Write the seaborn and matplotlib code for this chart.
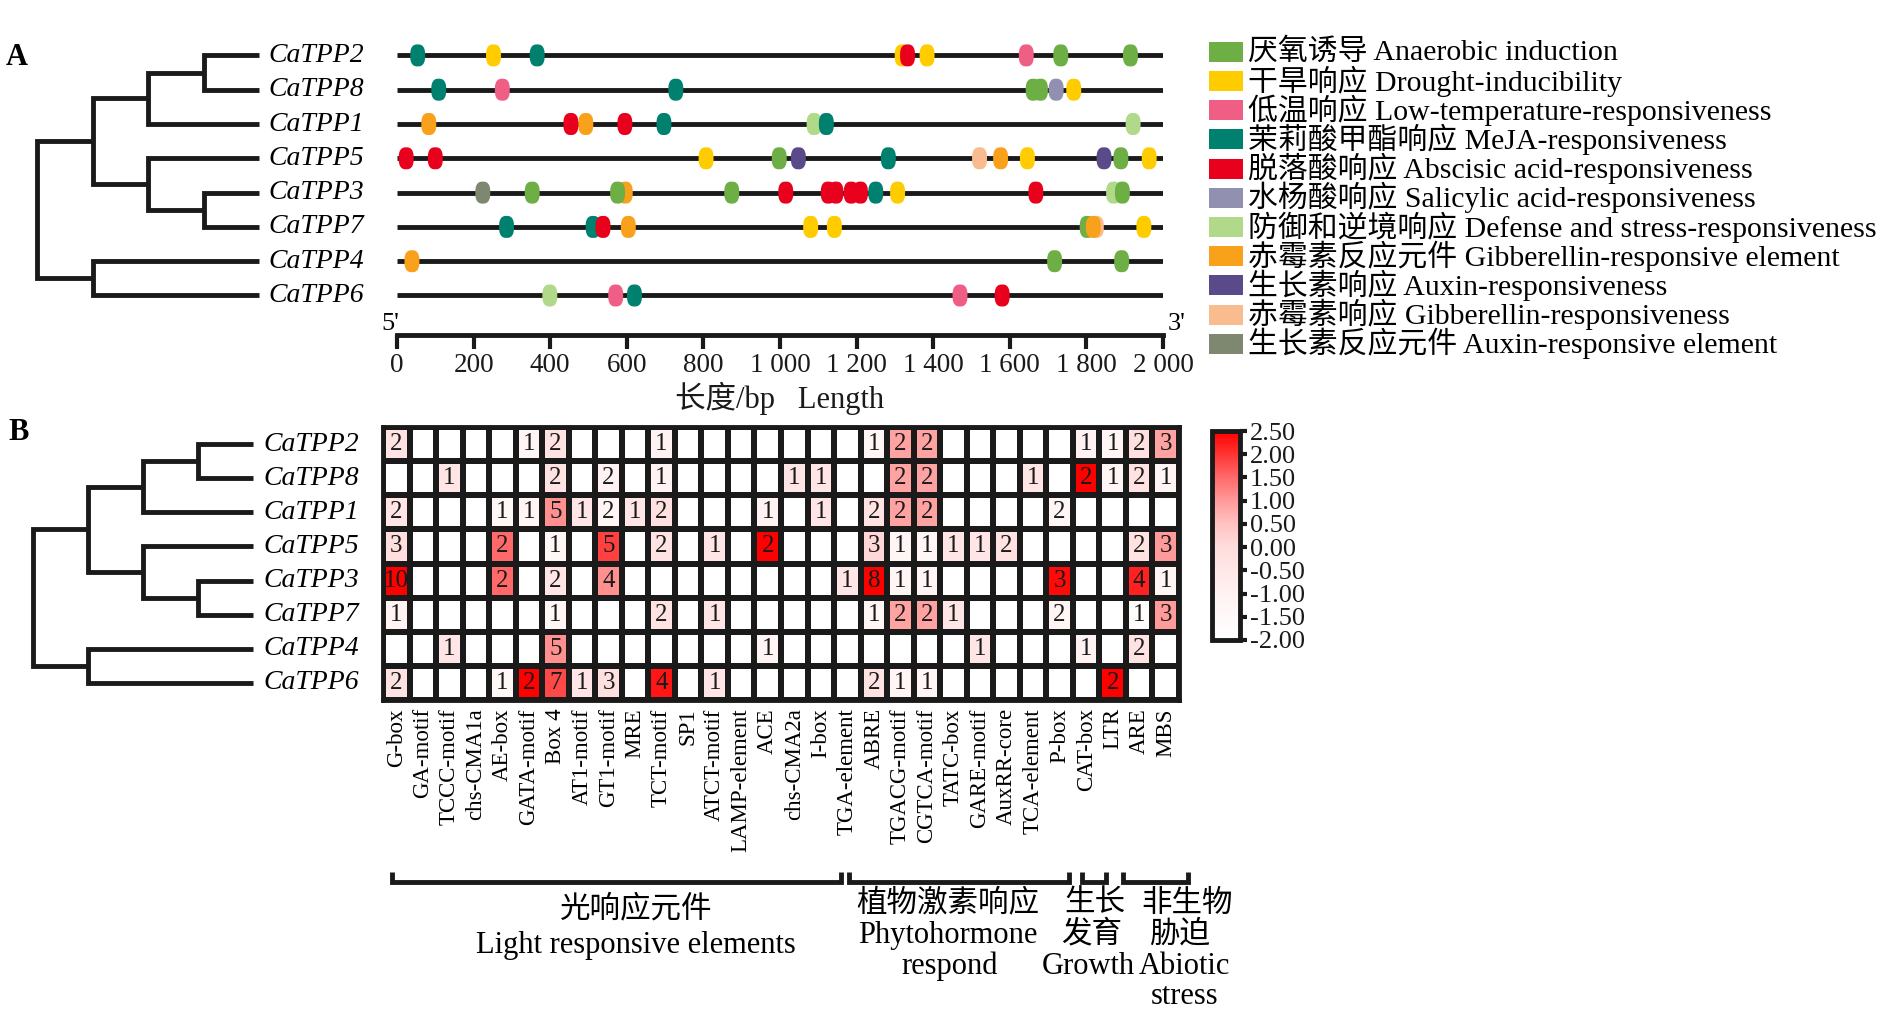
import numpy as np
import pandas as pd
import matplotlib
matplotlib.use("Agg")
import matplotlib.pyplot as plt
import seaborn as sns
from matplotlib.path import Path
from matplotlib.markers import MarkerStyle
from matplotlib.colors import LinearSegmentedColormap
from matplotlib.patches import Rectangle
import matplotlib.transforms as mtrans

# ---------------- data ----------------
genes = ["CaTPP2", "CaTPP8", "CaTPP1", "CaTPP5", "CaTPP3", "CaTPP7", "CaTPP4", "CaTPP6"]
gene_length = [2000, 2000, 2000, 2000, 2000, 2000, 2000, 2000]

# tree merges: (child a, child b, node level, node name); leaves at level 4
tree_merges = [("CaTPP2", "CaTPP8", 3, "n1"), ("n1", "CaTPP1", 2, "n2"),
               ("CaTPP3", "CaTPP7", 3, "n3"), ("CaTPP5", "n3", 2, "n4"),
               ("n2", "n4", 1, "n5"), ("CaTPP4", "CaTPP6", 1, "n6"),
               ("n5", "n6", 0, "root")]
tip_level = 4

legend_keys = ["Anaerobic", "Drought", "LowTemp", "MeJA", "ABA", "Salicylic",
               "Defense", "GAelem", "Auxin", "GAresp", "AuxElem"]
legend_cn = ["厌氧诱导", "干旱响应", "低温响应", "茉莉酸甲酯响应", "脱落酸响应", "水杨酸响应",
             "防御和逆境响应", "赤霉素反应元件", "生长素响应", "赤霉素响应", "生长素反应元件"]
legend_en = ["Anaerobic induction", "Drought-inducibility", "Low-temperature-responsiveness",
             "MeJA-responsiveness", "Abscisic acid-responsiveness", "Salicylic acid-responsiveness",
             "Defense and stress-responsiveness", "Gibberellin-responsive element",
             "Auxin-responsiveness", "Gibberellin-responsiveness", "Auxin-responsive element"]
legend_colors = ["#6DAE45", "#FFCC00", "#EF5E84", "#00806F", "#E8001C", "#9290B0",
                 "#B0DA8A", "#F9A11B", "#5A4A8A", "#F9BC8E", "#7E8870"]

motifs_CaTPP2 = [(54, "MeJA"), (252, "Drought"), (366, "MeJA"), (1319, "Drought"), (1333, "ABA"),
                 (1384, "Drought"), (1643, "LowTemp"), (1733, "Anaerobic"), (1915, "Anaerobic")]
motifs_CaTPP8 = [(109, "MeJA"), (275, "LowTemp"), (728, "MeJA"), (1661, "Anaerobic"),
                 (1680, "Anaerobic"), (1721, "Salicylic"), (1767, "Drought")]
motifs_CaTPP1 = [(83, "GAelem"), (454, "ABA"), (493, "GAelem"), (595, "ABA"), (697, "MeJA"),
                 (1089, "Defense"), (1121, "MeJA"), (1922, "Defense")]
motifs_CaTPP5 = [(24, "ABA"), (100, "ABA"), (807, "Drought"), (998, "Anaerobic"), (1048, "Auxin"),
                 (1283, "MeJA"), (1521, "GAresp"), (1576, "GAelem"), (1646, "Drought"),
                 (1846, "Auxin"), (1890, "Anaerobic"), (1964, "Drought")]
motifs_CaTPP3 = [(224, "AuxElem"), (353, "Anaerobic"), (596, "GAelem"), (576, "Anaerobic"),
                 (874, "Anaerobic"), (1015, "ABA"), (1126, "ABA"), (1146, "ABA"), (1186, "ABA"),
                 (1210, "ABA"), (1250, "MeJA"), (1307, "Drought"), (1668, "ABA"),
                 (1871, "Defense"), (1894, "Anaerobic")]
motifs_CaTPP7 = [(286, "MeJA"), (512, "MeJA"), (538, "ABA"), (604, "GAelem"), (1080, "Drought"),
                 (1142, "Drought"), (1802, "Anaerobic"), (1826, "GAresp"), (1818, "GAelem"),
                 (1950, "Drought")]
motifs_CaTPP4 = [(39, "GAelem"), (1717, "Anaerobic"), (1892, "Anaerobic")]
motifs_CaTPP6 = [(399, "Defense"), (571, "LowTemp"), (620, "MeJA"), (1470, "LowTemp"), (1580, "ABA")]
motif_lists = [motifs_CaTPP2, motifs_CaTPP8, motifs_CaTPP1, motifs_CaTPP5,
               motifs_CaTPP3, motifs_CaTPP7, motifs_CaTPP4, motifs_CaTPP6]

length_ticks = [0, 200, 400, 600, 800, 1000, 1200, 1400, 1600, 1800, 2000]

heat_cols = ["G-box", "GA-motif", "TCCC-motif", "chs-CMA1a", "AE-box", "GATA-motif", "Box 4",
             "AT1-motif", "GT1-motif", "MRE", "TCT-motif", "SP1", "ATCT-motif", "LAMP-element",
             "ACE", "chs-CMA2a", "I-box", "TGA-element", "ABRE", "TGACG-motif", "CGTCA-motif",
             "TATC-box", "GARE-motif", "AuxRR-core", "TCA-element", "P-box", "CAT-box", "LTR",
             "ARE", "MBS"]

motif_counts = [
    [2, 0, 0, 0, 0, 1, 2, 0, 0, 0, 1, 0, 0, 0, 0, 0, 0, 0, 1, 2, 2, 0, 0, 0, 0, 0, 1, 1, 2, 3],
    [0, 0, 1, 0, 0, 0, 2, 0, 2, 0, 1, 0, 0, 0, 0, 1, 1, 0, 0, 2, 2, 0, 0, 0, 1, 0, 2, 1, 2, 1],
    [2, 0, 0, 0, 1, 1, 5, 1, 2, 1, 2, 0, 0, 0, 1, 0, 1, 0, 2, 2, 2, 0, 0, 0, 0, 2, 0, 0, 0, 0],
    [3, 0, 0, 0, 2, 0, 1, 0, 5, 0, 2, 0, 1, 0, 2, 0, 0, 0, 3, 1, 1, 1, 1, 2, 0, 0, 0, 0, 2, 3],
    [10, 0, 0, 0, 2, 0, 2, 0, 4, 0, 0, 0, 0, 0, 0, 0, 0, 1, 8, 1, 1, 0, 0, 0, 0, 3, 0, 0, 4, 1],
    [1, 0, 0, 0, 0, 0, 1, 0, 0, 0, 2, 0, 1, 0, 0, 0, 0, 0, 1, 2, 2, 1, 0, 0, 0, 2, 0, 0, 1, 3],
    [0, 0, 1, 0, 0, 0, 5, 0, 0, 0, 0, 0, 0, 0, 1, 0, 0, 0, 0, 0, 0, 0, 1, 0, 0, 0, 1, 0, 2, 0],
    [2, 0, 0, 0, 1, 2, 7, 1, 3, 0, 4, 0, 1, 0, 0, 0, 0, 0, 2, 1, 1, 0, 0, 0, 0, 0, 0, 2, 0, 0],
]
E = -2.0
heat_scores = [
    [-0.3, E, E, E, E, -1.2, -0.3, E, E, E, -1.0, E, E, E, E, E, E, E, -1.2, 0.9, 0.9, E, E, E, E, E, -1.0, -1.2, -0.2, 0.9],
    [E, E, -0.4, E, E, E, -0.3, E, -1.0, E, -1.0, E, E, E, E, -0.4, -0.4, E, E, 0.9, 0.9, E, E, E, -0.4, E, 2.5, -1.2, -0.3, -1.2],
    [-0.4, E, E, E, -1.3, -1.2, 1.1, -0.4, -1.2, -0.4, -0.2, E, E, E, -1.0, E, -0.4, E, -0.3, 0.9, 0.9, E, E, E, E, -1.2, E, E, E, E],
    [-0.1, E, E, E, 1.5, E, -1.3, E, 1.9, E, -0.3, E, -0.4, E, 2.5, E, E, E, 0.1, -1.2, -1.2, -0.4, -0.4, -0.3, E, E, E, E, -0.3, 1.0],
    [2.5, E, E, E, 1.5, E, -0.4, E, 1.1, E, E, E, E, E, E, E, E, -0.4, 2.5, -1.2, -1.2, E, E, E, E, 2.4, E, E, 2.2, -1.2],
    [-1.1, E, E, E, E, E, -1.3, E, E, E, -0.3, E, -0.4, E, E, E, E, E, -1.2, 0.9, 0.9, -0.4, E, E, E, -1.2, E, E, -1.8, 1.0],
    [E, E, -0.4, E, E, E, 1.1, E, E, E, E, E, E, E, -1.2, E, E, E, E, E, E, E, -0.4, E, E, E, -1.0, E, -0.3, E],
    [-0.3, E, E, E, -1.3, 2.5, 1.8, -0.4, -0.2, E, 2.3, E, -0.4, E, E, E, E, E, -0.3, -1.2, -1.2, E, E, E, E, E, E, 2.5, E, E],
]
score_ticks = [-2.0, -1.5, -1.0, -0.5, 0.0, 0.5, 1.0, 1.5, 2.0, 2.5]

group_labels = [["光响应元件", "Light responsive elements"],
                ["植物激素响应", "Phytohormone", "respond"],
                ["生长", "发育", "Growth"],
                ["非生物", "胁迫", "Abiotic", "stress"]]

# ---------------- layout / style ----------------
# bracket spans (column units) and label anchors (pixels) — drawing layout only
bracket_spans = [(0.34, 17.26), (17.56, 25.85), (26.36, 27.23), (27.9, 30.35)]
label_x_px = [[636, 636], [948, 948, 950], [1095, 1092, 1088], [1187, 1180, 1184, 1185]]
label_y_px = [[910, 945], [904, 935, 966], [904, 935, 966], [904, 935, 966, 996]]

sns.set_theme(style="white")
plt.rcParams['font.family'] = ['Liberation Serif', 'Noto Sans CJK SC']
plt.rcParams['axes.unicode_minus'] = False
plt.rcParams['text.color'] = 'black'
plt.rcParams['xtick.color'] = 'black'
plt.rcParams['ytick.color'] = 'black'

W, H = 1890, 1013
fig = plt.figure(figsize=(W / 100, H / 100), dpi=100)
fig.patch.set_facecolor('white')


def px_axes(l, t, r, b):
    ax = fig.add_axes([l / W, 1 - b / H, (r - l) / W, (b - t) / H])
    ax.patch.set_visible(False)
    return ax


palette = dict(zip(legend_keys, legend_colors))
LW = 3.5


def draw_tree(ax, leaf_y):
    ypos = dict(leaf_y)
    xpos = {g: tip_level for g in leaf_y}
    for a, b, lvl, name in tree_merges:
        ax.plot([xpos[a], lvl, lvl, xpos[b]], [ypos[a], ypos[a], ypos[b], ypos[b]],
                color='k', lw=LW, solid_joinstyle='miter', solid_capstyle='butt', clip_on=False)
        ypos[name] = (ypos[a] + ypos[b]) / 2
        xpos[name] = lvl
    ax.set_xlim(0, tip_level)
    ax.axis('off')


# ---------------- panel A ----------------
A_top, A_bot = 28, 335
ytop = -(55.4 - A_top) / 34.3
ybot = (A_bot - 55.4) / 34.3

axA = px_axes(397, A_top, 1163, A_bot)
for i, g in enumerate(genes):
    axA.plot([0, gene_length[i]], [i, i], color='k', lw=LW, solid_capstyle='butt', zorder=2)

rows = []
for i, (g, lst) in enumerate(zip(genes, motif_lists)):
    for pos, cat in lst:
        rows.append({"gene": g, "row": i, "pos": pos, "cat": cat})
df_m = pd.DataFrame(rows)

t = np.linspace(0, 2 * np.pi, 73)
n = 2.6
mx = 0.68 * np.sign(np.cos(t)) * np.abs(np.cos(t)) ** (2 / n)
my = np.sign(np.sin(t)) * np.abs(np.sin(t)) ** (2 / n)
capsule = MarkerStyle(Path(np.column_stack([mx, my]), closed=True))

sns.scatterplot(data=df_m, x="pos", y="row", hue="cat", palette=palette, marker=capsule,
                s=251, linewidth=0, edgecolor='none', legend=False, ax=axA, zorder=3, clip_on=False)

axA.set_xlim(0, 2000)
axA.set_ylim(ybot, ytop)
for s in ['top', 'right', 'left']:
    axA.spines[s].set_visible(False)
axA.spines['bottom'].set_linewidth(LW)
axA.spines['bottom'].set_color('k')
axA.set_xticks(length_ticks)
axA.set_xticklabels([f"{v:,}".replace(",", " ") for v in length_ticks])
axA.tick_params(axis='x', bottom=True, direction='out', length=10, width=3, labelsize=19.5,
                pad=3, colors='k')
axA.set_yticks([])
axA.set_ylabel('')
axA.set_xlabel("长度/bp   Length", fontsize=22, labelpad=3, color='k')

axTA = px_axes(37, A_top, 259, A_bot)
draw_tree(axTA, {g: i for i, g in enumerate(genes)})
axTA.set_ylim(ybot, ytop)
offA = mtrans.offset_copy(axTA.transData, fig=fig, x=9, y=0, units='dots')
for i, g in enumerate(genes):
    axTA.text(tip_level, i, g, transform=offA, fontsize=20, fontstyle='italic',
              ha='left', va='center')

# ---------------- panel B ----------------
B_top, B_bot = 427, 700
axH = px_axes(383, B_top, 1179, B_bot)
cax = px_axes(1212, 431, 1240, 640)

cmap = LinearSegmentedColormap.from_list(
    "wr", [((v + 2) / 4.5, c) for v, c in
           [(-2, '#FFFFFF'), (-1, '#FFF2F2'), (0, '#FFDCDC'), (0.5, '#FFC2C2'),
            (1.0, '#FF9A9A'), (1.5, '#FF6A6A'), (2.0, '#FF3535'), (2.5, '#FF0000')]])

df_s = pd.DataFrame(heat_scores, index=genes, columns=heat_cols)
cnt = np.array(motif_counts)
annot = np.where(cnt > 0, cnt.astype(str), "")

sns.heatmap(df_s, ax=axH, cbar_ax=cax, cmap=cmap, vmin=-2, vmax=2.5, annot=annot, fmt="",
            annot_kws=dict(fontsize=18, color='k'), linewidths=4, linecolor='k',
            xticklabels=heat_cols, yticklabels=False,
            cbar_kws=dict(ticks=score_ticks, format='%.2f'))
axH.set_xlabel('')
axH.set_ylabel('')
for s in axH.spines.values():
    s.set_visible(True)
    s.set_linewidth(LW)
    s.set_color('k')
axH.tick_params(axis='x', bottom=True, length=0, pad=6, labelsize=16.5, labelrotation=90)
for lab in axH.get_xticklabels():
    lab.set_va('top')
    lab.set_ha('center')

cbar = axH.collections[0].colorbar
cbar.outline.set_linewidth(LW)
cbar.outline.set_edgecolor('k')
cax.tick_params(right=True, direction='out', length=5, width=3, labelsize=19, colors='k', pad=2)

axTB = px_axes(33, B_top, 253, B_bot)
draw_tree(axTB, {g: i + 0.5 for i, g in enumerate(genes)})
axTB.set_ylim(8, 0)
offB = mtrans.offset_copy(axTB.transData, fig=fig, x=10, y=0, units='dots')
for i, g in enumerate(genes):
    axTB.text(tip_level, i + 0.5, g, transform=offB, fontsize=20, fontstyle='italic',
              ha='left', va='center')

# ---------------- overlay (labels, legend, brackets) ----------------
ov = fig.add_axes([0, 0, 1, 1])
ov.set_xlim(0, W)
ov.set_ylim(H, 0)
ov.axis('off')
ov.patch.set_visible(False)
ov.set_zorder(10)

ov.text(17, 57, "A", fontsize=22, fontweight='bold', ha='center', va='center')
ov.text(19, 432, "B", fontsize=22, fontweight='bold', ha='center', va='center')
ov.text(390, 324, "5'", fontsize=19, ha='center', va='center')
ov.text(1177, 324, "3'", fontsize=19, ha='center', va='center')

for i, key in enumerate(legend_keys):
    y = 51.7 + 29.2 * i
    ov.add_patch(Rectangle((1209, y - 10), 34, 20, facecolor=palette[key], edgecolor='none'))
    ov.text(1248, y, f"{legend_cn[i]} {legend_en[i]}", fontsize=21.5, ha='left', va='center')

trans = mtrans.blended_transform_factory(axH.transData, ov.transData)
for k, (x0, x1) in enumerate(bracket_spans):
    ov.plot([x0, x0, x1, x1], [872, 882, 882, 872], transform=trans, color='k', lw=LW,
            solid_joinstyle='miter', solid_capstyle='butt', clip_on=False)
    for j, lab in enumerate(group_labels[k]):
        ov.text(label_x_px[k][j], label_y_px[k][j], lab, fontsize=22, ha='center', va='center')

fig.savefig("out.png", dpi=100, facecolor='white')
